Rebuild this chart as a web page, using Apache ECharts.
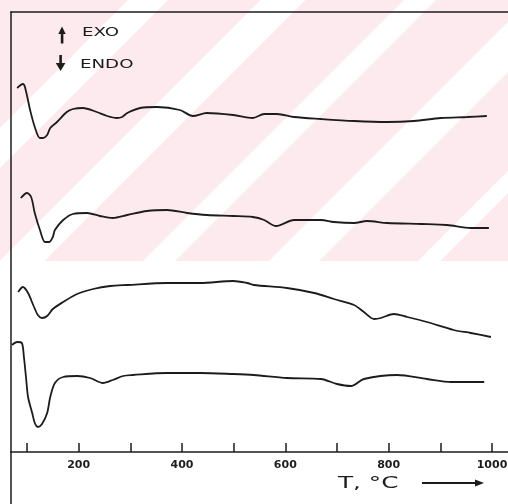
<!DOCTYPE html>
<html><head><meta charset="utf-8">
<script src="https://cdn.jsdelivr.net/npm/echarts@6/dist/echarts.min.js"></script>
<style>html,body{margin:0;padding:0;background:#fff}#c{width:508px;height:504px}</style>
</head><body><div id="c"></div>
<script>
// Temperature ticks / labels (°C)
const tickValues = [100, 200, 300, 400, 500, 600, 700, 800, 900, 1000];
const tickLabels = [200, 400, 600, 800, 1000];

// DTA curves (temperature °C, signal in arbitrary offset units)
const curve1T = [81, 92, 96, 106, 115, 125, 131, 139, 145, 158, 177, 189, 208, 235, 255, 274, 284, 294, 319, 352, 396, 421, 448, 499, 537, 559, 584, 617, 669, 733, 797, 849, 901, 952, 990];
const curve1V = [364, 368, 365, 342, 325, 314, 314, 317, 324, 330, 340, 343, 344, 340, 336, 334, 335, 339, 344, 345, 342, 336, 339, 337, 334, 338, 338, 335, 333, 331, 330, 331, 334, 335, 336];

const curve2T = [88, 100, 108, 115, 125, 135, 143, 150, 154, 170, 189, 216, 241, 266, 294, 332, 371, 410, 448, 499, 537, 559, 582, 617, 669, 694, 733, 758, 797, 863, 913, 959, 994];
const curve2V = [254, 259, 255, 239, 222, 210, 210, 215, 222, 232, 238, 239, 236, 234, 237, 241, 242, 239, 237, 236, 235, 232, 226, 232, 232, 230, 229, 231, 229, 228, 227, 224, 224];

const curve3T = [83, 92, 102, 112, 121, 129, 139, 150, 170, 197, 228, 261, 294, 371, 435, 499, 526, 539, 603, 656, 694, 733, 752, 772, 785, 810, 836, 874, 926, 959, 998];
const curve3V = [160, 165, 159, 147, 137, 134, 136, 143, 150, 158, 163, 166, 167, 169, 169, 171, 169, 167, 164, 159, 153, 147, 140, 133, 134, 138, 135, 130, 122, 119, 115];

const curve4T = [71, 81, 90, 94, 98, 102, 110, 115, 121, 129, 139, 145, 154, 170, 197, 222, 247, 266, 286, 305, 371, 435, 499, 539, 603, 669, 700, 727, 752, 816, 874, 921, 985];
const curve4V = [107, 110, 109, 95, 75, 55, 39, 29, 25, 28, 39, 55, 69, 75, 76, 74, 69, 72, 76, 77, 79, 79, 78, 77, 74, 73, 68, 66, 73, 77, 73, 70, 70];

const curves = [[curve1T, curve1V], [curve2T, curve2V], [curve3T, curve3V], [curve4T, curve4V]];

const chart = echarts.init(document.getElementById('c'), null, {renderer: 'canvas'});

// background watermark stripes (decoration)
const pink = 'rgb(252,234,238)';
const stripeCenters = [148, 283, 420, 555, 690];
const stripeWidths = [40, 45, 32, 50, 22];
const wmH = 261;
const graphics = [{type: 'rect', z: -20, silent: true, shape: {x: 0, y: 0, width: 508, height: wmH}, style: {fill: pink}}];
stripeCenters.forEach((c, i) => {
  const w = stripeWidths[i] / 2;
  graphics.push({type: 'polygon', z: -19, silent: true,
    shape: {points: [[c - w, 0], [c + w, 0], [c + w - wmH, wmH], [c - w - wmH, wmH]]},
    style: {fill: '#ffffff'}});
});

const ink = '#1c1c1c';
graphics.push(
  // left frame line continuing below the temperature axis
  {type: 'line', z: 50, shape: {x1: 11, y1: 451, x2: 11, y2: 504}, style: {stroke: ink, lineWidth: 1.5}},
  // EXO / ENDO markers
  {type: 'polygon', z: 50, shape: {points: [[62, 26.5], [58.3, 34], [65.7, 34]]}, style: {fill: ink}},
  {type: 'rect', z: 50, shape: {x: 60.8, y: 33, width: 2.6, height: 10.5}, style: {fill: ink}},
  {type: 'rect', z: 50, shape: {x: 59.3, y: 55, width: 2.6, height: 9}, style: {fill: ink}},
  {type: 'polygon', z: 50, shape: {points: [[55.8, 63], [65.4, 63], [60.6, 71]]}, style: {fill: ink}},
  {type: 'text', z: 50, x: 82, y: 33, scaleX: 1.4,
    style: {text: 'EXO', font: '13px "DejaVu Sans"', fill: ink, textVerticalAlign: 'middle', verticalAlign: 'middle'}},
  {type: 'text', z: 50, x: 80, y: 65, scaleX: 1.4,
    style: {text: 'ENDO', font: '13px "DejaVu Sans"', fill: ink, textVerticalAlign: 'middle', verticalAlign: 'middle'}},
  {type: 'text', z: 50, x: 338, y: 484, scaleX: 1.65,
    style: {text: 'T, °C', font: '15px "DejaVu Sans"', fill: ink, textVerticalAlign: 'middle', verticalAlign: 'middle'}},
  {type: 'line', z: 50, shape: {x1: 422, y1: 483, x2: 477, y2: 483}, style: {stroke: ink, lineWidth: 2}},
  {type: 'polygon', z: 50, shape: {points: [[475, 479.5], [484, 483], [475, 486.5]]}, style: {fill: ink}}
);

chart.setOption({
  animation: false,
  backgroundColor: '#ffffff',
  graphic: {elements: graphics},
  grid: {left: 11, right: 0, top: 12, bottom: 52, show: false, containLabel: false, outerBoundsMode: 'none'},
  xAxis: [{
    type: 'value', min: 69, max: 1031, position: 'bottom',
    axisLine: {show: true, onZero: false, lineStyle: {color: ink, width: 1.5}},
    axisTick: {show: true, inside: true, length: 9, customValues: tickValues, lineStyle: {color: ink, width: 1.5}},
    axisLabel: {show: true, customValues: tickLabels, margin: 8, color: ink, fontSize: 11, fontWeight: 'bold',
      fontFamily: 'DejaVu Sans', formatter: v => String(v)},
    splitLine: {show: false}
  }, {
    type: 'value', min: 69, max: 1031, position: 'top',
    axisLine: {show: true, onZero: false, lineStyle: {color: ink, width: 1.5}},
    axisTick: {show: false}, axisLabel: {show: false}, splitLine: {show: false}
  }],
  yAxis: {
    type: 'value', min: 0, max: 440,
    axisLine: {show: true, onZero: false, lineStyle: {color: ink, width: 1.5}},
    axisTick: {show: false}, axisLabel: {show: false}, splitLine: {show: false}
  },
  series: curves.map(([t, v]) => ({
    type: 'line', showSymbol: false, smooth: 0.3,
    lineStyle: {color: ink, width: 1.8},
    data: t.map((x, i) => [x, v[i]])
  }))
});
</script></body></html>
